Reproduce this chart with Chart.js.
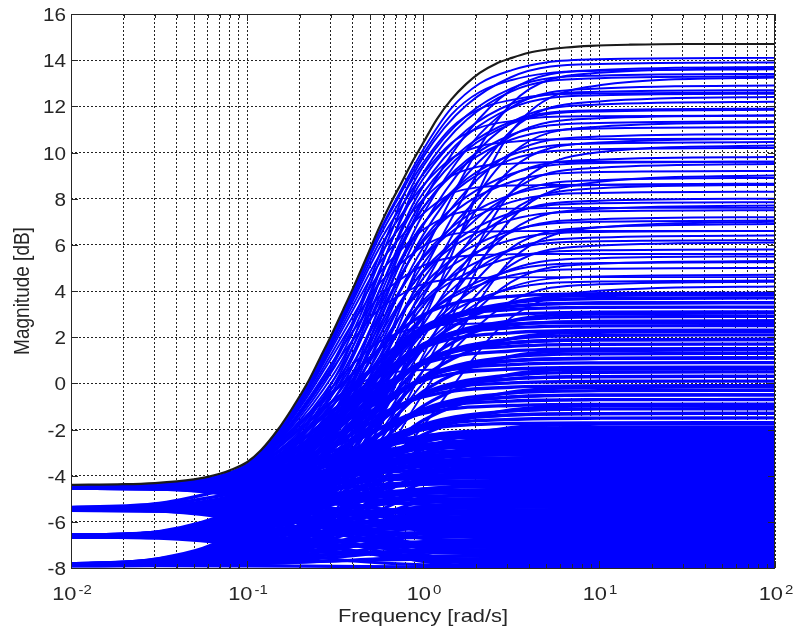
<!DOCTYPE html>
<html>
<head>
<meta charset="utf-8">
<script src="https://cdn.jsdelivr.net/npm/chart.js@4.4.1/dist/chart.umd.min.js"></script>
<style>
  body { margin: 0; background: #fff; }
  canvas { display: block; }
</style>
</head>
<body>
<canvas id="bode" width="793" height="635"></canvas>
<script>
// frequencies (rad/s) at which the blue responses are sampled
var freqs = [0.01, 0.0316, 0.1, 0.316, 1, 3.16, 10, 100];
// finer sampling for the responses that run along the envelope
var fineFreqs = [0.01, 0.03, 0.06, 0.1, 0.15, 0.22, 0.3, 0.41, 0.56, 0.75, 1, 1.45, 2.1, 3.2, 5, 10, 100];

// outer (worst case) response, drawn in black
var envFreqs = [0.01, 0.02, 0.03, 0.04, 0.05, 0.06, 0.07, 0.08, 0.1, 0.12, 0.15, 0.18, 0.22, 0.26, 0.3, 0.35, 0.41, 0.48,
  0.56, 0.65, 0.75, 0.87, 1, 1.2, 1.45, 1.75, 2.1, 2.6, 3.2, 4, 5, 6.5, 9, 15, 30, 100];
var envDb = [-4.4, -4.37, -4.32, -4.25, -4.16, -4.05, -3.92, -3.77, -3.42, -2.9, -2.0, -1.1, 0.0, 1.1, 2.05, 3.15, 4.3, 5.5,
  6.7, 7.75, 8.65, 9.6, 10.4, 11.45, 12.3, 12.95, 13.45, 13.85, 14.1, 14.32, 14.45, 14.55, 14.62, 14.67, 14.7, 14.7];

// responses that follow the envelope and level off one after another
var peelDb = [
  [-4.5, -4.42, -4.15, -3.52, -2.11, -0.11, 1.92, 4.15, 6.52, 8.37, 10.11, 11.92, 12.99, 13.57, 13.9, 14.04, 14.1],
  [-4.5, -4.42, -4.15, -3.53, -2.11, -0.13, 1.9, 4.11, 6.44, 8.24, 9.92, 11.64, 12.62, 13.14, 13.43, 13.54, 13.6],
  [-4.5, -4.42, -4.15, -3.53, -2.13, -0.16, 1.84, 4.02, 6.28, 7.99, 9.54, 11.08, 11.89, 12.28, 12.5, 12.56, 12.6],
  [-4.5, -4.42, -4.16, -3.54, -2.15, -0.2, 1.76, 3.88, 6.05, 7.64, 9.05, 10.41, 11.08, 11.37, 11.54, 11.57, 11.6],
  [-4.5, -4.42, -4.16, -3.55, -2.17, -0.25, 1.68, 3.74, 5.81, 7.28, 8.56, 9.74, 10.27, 10.46, 10.56, 10.58, 10.6],
  [-4.5, -4.42, -4.16, -3.56, -2.2, -0.31, 1.56, 3.54, 5.48, 6.82, 7.96, 8.98, 9.4, 9.52, 9.58, 9.6, 9.6],
  [-4.5, -4.43, -4.17, -3.58, -2.24, -0.38, 1.44, 3.33, 5.15, 6.36, 7.35, 8.22, 8.5, 8.57, 8.59, 8.6, 8.6],
  [-4.5, -4.43, -4.18, -3.6, -2.3, -0.48, 1.25, 3.05, 4.72, 5.78, 6.65, 7.3, 7.52, 7.57, 7.59, 7.6, 7.6],
  [-4.5, -4.43, -4.19, -3.63, -2.35, -0.59, 1.07, 2.76, 4.29, 5.2, 5.94, 6.45, 6.57, 6.59, 6.6, 6.6, 6.6],
  [-4.5, -4.43, -4.2, -3.66, -2.43, -0.74, 0.81, 2.37, 3.74, 4.52, 5.1, 5.45, 5.56, 5.59, 5.6, 5.6, 5.6],
  [-4.5, -4.44, -4.22, -3.7, -2.51, -0.9, 0.55, 1.98, 3.19, 3.84, 4.3, 4.5, 4.57, 4.59, 4.6, 4.6, 4.6],
  [-4.5, -4.45, -4.27, -3.85, -2.81, -1.44, -0.22, 0.91, 1.78, 2.22, 2.45, 2.55, 2.59, 2.6, 2.6, 2.6, 2.6],
  [-4.5, -4.47, -4.33, -4.0, -3.12, -1.99, -1.0, -0.16, 0.37, 0.52, 0.58, 0.6, 0.6, 0.6, 0.6, 0.6, 0.6]
];

// responses that settle above ~4 dB
var upperDb = [
  [-4.48, -4.37, -3.54, 1.09, 9.78, 13.26, 13.83, 13.9],
  [-4.48, -4.37, -3.57, 0.94, 9.39, 12.77, 13.33, 13.4],
  [-4.48, -4.38, -3.61, 0.73, 8.85, 12.1, 12.63, 12.7],
  [-4.48, -4.39, -3.65, 0.49, 8.23, 11.33, 11.83, 11.9],
  [-4.48, -4.39, -3.69, 0.24, 7.61, 10.55, 11.04, 11.1],
  [-4.49, -4.4, -3.74, -0.03, 6.91, 9.69, 10.14, 10.2],
  [-4.49, -4.4, -3.79, -0.34, 6.13, 8.72, 9.15, 9.2],
  [-4.49, -4.41, -3.83, -0.61, 5.43, 7.85, 8.25, 8.3],
  [-4.49, -4.42, -3.88, -0.85, 4.81, 7.08, 7.45, 7.5],
  [-4.49, -4.42, -3.92, -1.13, 4.11, 6.21, 6.56, 6.6],
  [-4.49, -4.43, -3.96, -1.37, 3.49, 5.44, 5.76, 5.8],
  [-4.49, -4.43, -4.01, -1.61, 2.87, 4.67, 4.96, 5.0],
  [-5.45, -5.36, -4.78, -1.16, 7.88, 12.7, 13.57, 13.7],
  [-5.45, -5.37, -4.81, -1.34, 7.32, 11.95, 12.77, 12.9],
  [-5.45, -5.37, -4.83, -1.5, 6.83, 11.28, 12.08, 12.2],
  [-5.45, -5.37, -4.85, -1.63, 6.42, 10.71, 11.48, 11.6],
  [-5.45, -5.38, -4.88, -1.81, 5.86, 9.96, 10.69, 10.8],
  [-5.45, -5.38, -4.92, -2.03, 5.16, 9.01, 9.69, 9.8],
  [-5.45, -5.39, -4.95, -2.24, 4.54, 8.15, 8.8, 8.9],
  [-5.45, -5.39, -4.98, -2.44, 3.91, 7.3, 7.91, 8.0],
  [-5.45, -5.39, -5.01, -2.62, 3.35, 6.54, 7.11, 7.2],
  [-5.45, -5.4, -5.04, -2.8, 2.8, 5.78, 6.32, 6.4],
  [-5.45, -5.4, -5.07, -3.0, 2.17, 4.93, 5.42, 5.5],
  [-5.45, -5.4, -5.09, -3.18, 1.61, 4.17, 4.63, 4.7],
  [-5.43, -5.32, -4.47, 0.25, 9.1, 12.64, 13.22, 13.3],
  [-5.43, -5.32, -4.51, 0.02, 8.52, 11.92, 12.48, 12.55],
  [-5.43, -5.33, -4.55, -0.19, 7.97, 11.24, 11.78, 11.85],
  [-5.43, -5.33, -4.58, -0.34, 7.59, 10.76, 11.28, 11.35],
  [-5.43, -5.34, -4.62, -0.62, 6.89, 9.89, 10.39, 10.45],
  [-5.43, -5.34, -4.67, -0.87, 6.23, 9.07, 9.54, 9.6],
  [-5.44, -5.35, -4.72, -1.16, 5.49, 8.16, 8.59, 8.65],
  [-5.44, -5.36, -4.76, -1.41, 4.87, 7.38, 7.8, 7.85],
  [-5.44, -5.36, -4.8, -1.65, 4.25, 6.61, 7.0, 7.05],
  [-5.44, -5.37, -4.84, -1.91, 3.59, 5.79, 6.15, 6.2],
  [-5.44, -5.38, -4.89, -2.2, 2.85, 4.88, 5.21, 5.25],
  [-5.44, -5.38, -4.94, -2.44, 2.23, 4.1, 4.41, 4.45],
  [-6.65, -6.59, -6.18, -3.4, 5.57, 12.09, 13.45, 13.65],
  [-6.65, -6.59, -6.21, -3.6, 4.82, 10.93, 12.21, 12.4],
  [-6.65, -6.6, -6.24, -3.78, 4.16, 9.92, 11.12, 11.3],
  [-6.65, -6.6, -6.25, -3.89, 3.73, 9.27, 10.43, 10.6],
  [-6.65, -6.6, -6.28, -4.07, 3.07, 8.26, 9.34, 9.5],
  [-6.65, -6.6, -6.3, -4.21, 2.53, 7.43, 8.45, 8.6],
  [-6.65, -6.61, -6.32, -4.35, 1.99, 6.6, 7.56, 7.7],
  [-6.65, -6.61, -6.34, -4.48, 1.51, 5.86, 6.76, 6.9],
  [-6.65, -6.61, -6.36, -4.61, 1.03, 5.12, 5.97, 6.1],
  [-6.65, -6.61, -6.38, -4.74, 0.54, 4.38, 5.18, 5.3],
  [-6.65, -6.62, -6.4, -4.88, 0.0, 3.55, 4.29, 4.4],
  [-7.9, -7.86, -7.56, -5.53, 2.68, 10.88, 12.91, 13.25],
  [-7.9, -7.86, -7.61, -5.86, 1.2, 8.26, 10.01, 10.3],
  [-7.9, -7.87, -7.63, -6.01, 0.55, 7.11, 8.73, 9.0],
  [-7.9, -7.87, -7.66, -6.23, -0.45, 5.33, 6.76, 7.0],
  [-7.9, -7.88, -7.71, -6.54, -1.85, 2.84, 4.01, 4.2]
];

// responses that settle between -2 and 4 dB
var middleDb = [
  [-4.48, -4.37, -3.56, -0.3, 2.96, 3.77, 3.88, 3.9],
  [-4.48, -4.38, -3.65, -0.7, 2.25, 2.98, 3.08, 3.1],
  [-4.49, -4.39, -3.74, -1.1, 1.54, 2.19, 2.29, 2.3],
  [-4.49, -4.4, -3.83, -1.5, 0.83, 1.4, 1.49, 1.5],
  [-4.49, -4.42, -3.92, -1.9, 0.12, 0.62, 0.69, 0.7],
  [-4.49, -4.43, -4.01, -2.3, -0.59, -0.17, -0.11, -0.1],
  [-4.49, -4.44, -4.1, -2.7, -1.3, -0.96, -0.91, -0.9],
  [-4.49, -4.46, -4.19, -3.1, -2.01, -1.74, -1.71, -1.7],
  [-4.49, -4.42, -3.88, -1.32, 2.22, 3.32, 3.48, 3.5],
  [-4.49, -4.43, -3.95, -1.63, 1.55, 2.53, 2.68, 2.7],
  [-4.49, -4.44, -4.01, -1.95, 0.88, 1.75, 1.88, 1.9],
  [-4.49, -4.44, -4.07, -2.27, 0.2, 0.97, 1.08, 1.1],
  [-4.5, -4.45, -4.13, -2.59, -0.47, 0.19, 0.29, 0.3],
  [-4.5, -4.46, -4.19, -2.91, -1.14, -0.59, -0.51, -0.5],
  [-4.5, -4.47, -4.25, -3.23, -1.81, -1.37, -1.31, -1.3],
  [-5.39, -5.31, -4.7, -1.78, 2.24, 3.49, 3.67, 3.7],
  [-5.39, -5.32, -4.76, -2.1, 1.57, 2.71, 2.88, 2.9],
  [-5.39, -5.33, -4.82, -2.41, 0.9, 1.93, 2.08, 2.1],
  [-5.39, -5.33, -4.88, -2.73, 0.23, 1.15, 1.28, 1.3],
  [-5.39, -5.34, -4.95, -3.05, -0.44, 0.36, 0.48, 0.5],
  [-5.39, -5.35, -5.01, -3.37, -1.12, -0.42, -0.32, -0.3],
  [-5.4, -5.36, -5.07, -3.69, -1.79, -1.2, -1.11, -1.1],
  [-5.4, -5.37, -5.13, -4.01, -2.46, -1.98, -1.91, -1.9],
  [-6.58, -6.44, -5.47, -1.55, 2.37, 3.34, 3.48, 3.5],
  [-6.58, -6.45, -5.56, -1.95, 1.66, 2.55, 2.68, 2.7],
  [-6.58, -6.46, -5.65, -2.35, 0.95, 1.76, 1.88, 1.9],
  [-6.58, -6.48, -5.74, -2.75, 0.24, 0.98, 1.08, 1.1],
  [-6.59, -6.49, -5.83, -3.15, -0.47, 0.19, 0.29, 0.3],
  [-6.59, -6.5, -5.92, -3.55, -1.18, -0.6, -0.51, -0.5],
  [-6.59, -6.52, -6.01, -3.95, -1.89, -1.38, -1.31, -1.3],
  [-6.64, -6.58, -6.1, -3.46, 1.5, 3.48, 3.81, 3.85],
  [-6.64, -6.58, -6.15, -3.7, 0.88, 2.71, 3.01, 3.05],
  [-6.64, -6.59, -6.19, -3.94, 0.26, 1.94, 2.21, 2.25],
  [-6.64, -6.59, -6.23, -4.19, -0.36, 1.17, 1.42, 1.45],
  [-6.64, -6.6, -6.27, -4.43, -0.99, 0.39, 0.62, 0.65],
  [-6.64, -6.6, -6.31, -4.67, -1.61, -0.38, -0.18, -0.15],
  [-6.64, -6.61, -6.35, -4.92, -2.23, -1.15, -0.97, -0.95],
  [-6.65, -6.62, -6.4, -5.16, -2.85, -1.92, -1.77, -1.75],
  [-7.82, -7.59, -6.07, -1.14, 2.44, 3.19, 3.29, 3.3],
  [-7.82, -7.61, -6.19, -1.62, 1.7, 2.4, 2.49, 2.5],
  [-7.82, -7.63, -6.32, -2.1, 0.96, 1.6, 1.69, 1.7],
  [-7.82, -7.65, -6.45, -2.58, 0.23, 0.81, 0.89, 0.9],
  [-7.83, -7.67, -6.58, -3.06, -0.51, 0.02, 0.09, 0.1],
  [-7.83, -7.69, -6.71, -3.55, -1.25, -0.77, -0.71, -0.7],
  [-7.83, -7.7, -6.83, -4.03, -1.99, -1.56, -1.51, -1.5]
];

// responses that settle between -8 and -2 dB
var lowerDb = [
  [-4.49, -4.44, -4.12, -3.06, -2.28, -2.12, -2.1, -2.1],
  [-4.49, -4.45, -4.18, -3.3, -2.65, -2.52, -2.5, -2.5],
  [-4.5, -4.46, -4.24, -3.54, -3.02, -2.92, -2.9, -2.9],
  [-4.5, -4.47, -4.31, -3.78, -3.39, -3.31, -3.3, -3.3],
  [-4.5, -4.48, -4.37, -4.02, -3.76, -3.71, -3.7, -3.7],
  [-4.5, -4.49, -4.44, -4.26, -4.13, -4.1, -4.1, -4.1],
  [-4.5, -4.51, -4.56, -4.74, -4.87, -4.9, -4.9, -4.9],
  [-4.5, -4.52, -4.63, -4.98, -5.24, -5.29, -5.3, -5.3],
  [-4.5, -4.53, -4.69, -5.22, -5.61, -5.69, -5.7, -5.7],
  [-4.5, -4.54, -4.76, -5.46, -5.98, -6.08, -6.1, -6.1],
  [-4.51, -4.55, -4.82, -5.7, -6.35, -6.48, -6.5, -6.5],
  [-4.51, -4.56, -4.88, -5.94, -6.72, -6.88, -6.9, -6.9],
  [-4.51, -4.56, -4.95, -6.19, -7.08, -7.27, -7.3, -7.3],
  [-4.51, -4.57, -5.01, -6.43, -7.45, -7.67, -7.7, -7.7],
  [-5.44, -5.34, -4.72, -3.19, -2.37, -2.22, -2.2, -2.2],
  [-5.44, -5.35, -4.81, -3.47, -2.75, -2.62, -2.6, -2.6],
  [-5.44, -5.36, -4.9, -3.74, -3.13, -3.02, -3.0, -3.0],
  [-5.44, -5.38, -4.99, -4.02, -3.51, -3.41, -3.4, -3.4],
  [-5.44, -5.39, -5.08, -4.3, -3.89, -3.81, -3.8, -3.8],
  [-5.44, -5.41, -5.17, -4.58, -4.27, -4.21, -4.2, -4.2],
  [-5.45, -5.42, -5.26, -4.86, -4.64, -4.61, -4.6, -4.6],
  [-5.45, -5.43, -5.35, -5.14, -5.02, -5.0, -5.0, -5.0],
  [-5.45, -5.46, -5.53, -5.69, -5.78, -5.8, -5.8, -5.8],
  [-5.45, -5.48, -5.62, -5.97, -6.16, -6.2, -6.2, -6.2],
  [-5.46, -5.49, -5.71, -6.25, -6.54, -6.59, -6.6, -6.6],
  [-5.46, -5.5, -5.8, -6.53, -6.92, -6.99, -7.0, -7.0],
  [-5.46, -5.52, -5.89, -6.81, -7.3, -7.39, -7.4, -7.4],
  [-5.46, -5.53, -5.98, -7.09, -7.68, -7.78, -7.8, -7.8],
  [-6.62, -6.42, -5.33, -3.27, -2.45, -2.32, -2.3, -2.3],
  [-6.62, -6.44, -5.45, -3.6, -2.84, -2.72, -2.7, -2.7],
  [-6.63, -6.47, -5.57, -3.9, -3.22, -3.11, -3.1, -3.1],
  [-6.63, -6.49, -5.69, -4.21, -3.61, -3.51, -3.5, -3.5],
  [-6.63, -6.51, -5.81, -4.52, -4.0, -3.91, -3.9, -3.9],
  [-6.63, -6.53, -5.94, -4.83, -4.38, -4.31, -4.3, -4.3],
  [-6.64, -6.55, -6.06, -5.14, -4.77, -4.71, -4.7, -4.7],
  [-6.64, -6.57, -6.18, -5.45, -5.15, -5.11, -5.1, -5.1],
  [-6.64, -6.59, -6.3, -5.76, -5.54, -5.5, -5.5, -5.5],
  [-6.64, -6.61, -6.42, -6.07, -5.93, -5.9, -5.9, -5.9],
  [-6.65, -6.63, -6.54, -6.38, -6.31, -6.3, -6.3, -6.3],
  [-6.65, -6.67, -6.79, -7.0, -7.08, -7.1, -7.1, -7.1],
  [-6.66, -6.69, -6.91, -7.31, -7.47, -7.5, -7.5, -7.5],
  [-6.66, -6.71, -7.03, -7.62, -7.86, -7.9, -7.9, -7.9],
  [-7.87, -7.69, -6.58, -3.79, -2.31, -2.04, -2.01, -2.0],
  [-7.88, -7.71, -6.67, -4.07, -2.69, -2.44, -2.41, -2.4],
  [-7.88, -7.72, -6.76, -4.35, -3.07, -2.84, -2.81, -2.8],
  [-7.88, -7.74, -6.85, -4.63, -3.44, -3.23, -3.2, -3.2],
  [-7.88, -7.75, -6.94, -4.91, -3.82, -3.63, -3.6, -3.6],
  [-7.88, -7.76, -7.03, -5.19, -4.2, -4.03, -4.0, -4.0],
  [-7.88, -7.78, -7.12, -5.46, -4.58, -4.42, -4.4, -4.4],
  [-7.89, -7.79, -7.21, -5.74, -4.96, -4.82, -4.8, -4.8],
  [-7.89, -7.81, -7.3, -6.02, -5.34, -5.22, -5.2, -5.2],
  [-7.89, -7.82, -7.38, -6.3, -5.72, -5.62, -5.6, -5.6],
  [-7.89, -7.83, -7.47, -6.58, -6.1, -6.01, -6.0, -6.0],
  [-7.89, -7.85, -7.56, -6.86, -6.48, -6.41, -6.4, -6.4],
  [-7.9, -7.86, -7.65, -7.13, -6.86, -6.81, -6.8, -6.8],
  [-7.9, -7.88, -7.74, -7.41, -7.24, -7.2, -7.2, -7.2],
  [-7.9, -7.89, -7.83, -7.69, -7.62, -7.6, -7.6, -7.6],
  [-7.9, -7.9, -7.91, -7.93, -7.95, -7.95, -7.95, -7.95],
  [-4.55, -4.53, -4.38, -3.67, -2.7, -2.4, -2.36, -2.35],
  [-4.55, -4.54, -4.43, -3.95, -3.29, -3.08, -3.05, -3.05],
  [-4.55, -4.54, -4.5, -4.31, -4.05, -3.96, -3.95, -3.95],
  [-4.55, -4.56, -4.6, -4.79, -5.05, -5.14, -5.15, -5.15],
  [-4.55, -4.56, -4.66, -5.11, -5.73, -5.92, -5.95, -5.95],
  [-4.55, -4.57, -4.72, -5.43, -6.4, -6.7, -6.74, -6.75],
  [-4.55, -4.58, -4.78, -5.74, -7.07, -7.48, -7.54, -7.55],
  [-4.55, -4.58, -4.81, -5.9, -7.41, -7.87, -7.94, -7.95],
  [-5.49, -5.45, -5.16, -3.98, -2.79, -2.5, -2.46, -2.45],
  [-5.5, -5.46, -5.25, -4.38, -3.5, -3.29, -3.25, -3.25],
  [-5.5, -5.48, -5.38, -4.98, -4.57, -4.47, -4.45, -4.45],
  [-5.5, -5.51, -5.6, -5.93, -6.25, -6.34, -6.35, -6.35],
  [-5.5, -5.53, -5.68, -6.33, -6.97, -7.12, -7.15, -7.15],
  [-5.51, -5.54, -5.78, -6.75, -7.72, -7.96, -8.0, -8.0],
  [-7.84, -7.79, -7.41, -5.58, -3.06, -2.28, -2.17, -2.15],
  [-7.84, -7.8, -7.45, -5.78, -3.48, -2.77, -2.67, -2.65],
  [-7.85, -7.8, -7.49, -5.98, -3.9, -3.26, -3.16, -3.15],
  [-7.85, -7.81, -7.53, -6.18, -4.32, -3.75, -3.66, -3.65],
  [-7.85, -7.81, -7.57, -6.38, -4.74, -4.24, -4.16, -4.15],
  [-7.85, -7.82, -7.6, -6.54, -5.08, -4.63, -4.56, -4.55],
  [-7.85, -7.82, -7.63, -6.7, -5.41, -5.02, -4.96, -4.95],
  [-7.85, -7.83, -7.67, -6.89, -5.83, -5.5, -5.46, -5.45],
  [-7.85, -7.83, -7.7, -7.05, -6.17, -5.9, -5.86, -5.85],
  [-7.85, -7.83, -7.73, -7.21, -6.51, -6.29, -6.25, -6.25],
  [-7.85, -7.84, -7.76, -7.39, -6.88, -6.73, -6.7, -6.7],
  [-7.85, -7.84, -7.79, -7.53, -7.18, -7.07, -7.05, -7.05],
  [-7.85, -7.85, -7.82, -7.69, -7.51, -7.46, -7.45, -7.45],
  [-6.59, -6.53, -6.09, -4.33, -2.56, -2.12, -2.06, -2.05],
  [-6.59, -6.54, -6.15, -4.58, -3.0, -2.61, -2.56, -2.55],
  [-6.59, -6.55, -6.24, -4.98, -3.71, -3.4, -3.36, -3.35],
  [-6.59, -6.56, -6.29, -5.23, -4.16, -3.89, -3.85, -3.85],
  [-6.6, -6.57, -6.37, -5.58, -4.78, -4.58, -4.55, -4.55],
  [-6.6, -6.58, -6.46, -5.98, -5.49, -5.37, -5.35, -5.35],
  [-6.6, -6.59, -6.5, -6.18, -5.85, -5.76, -5.75, -5.75],
  [-6.6, -6.6, -6.58, -6.53, -6.47, -6.45, -6.45, -6.45],
  [-6.6, -6.61, -6.64, -6.78, -6.91, -6.94, -6.95, -6.95],
  [-6.6, -6.61, -6.68, -6.98, -7.27, -7.34, -7.35, -7.35],
  [-6.6, -6.62, -6.72, -7.15, -7.58, -7.68, -7.7, -7.7],
  [-5.37, -5.2, -4.35, -3.17, -2.81, -2.76, -2.75, -2.75],
  [-5.38, -5.26, -4.66, -3.85, -3.59, -3.56, -3.55, -3.55],
  [-5.39, -5.32, -4.98, -4.52, -4.37, -4.35, -4.35, -4.35],
  [-5.39, -5.35, -5.14, -4.85, -4.76, -4.75, -4.75, -4.75],
  [-5.4, -5.41, -5.46, -5.53, -5.55, -5.55, -5.55, -5.55],
  [-5.41, -5.45, -5.68, -5.99, -6.08, -6.1, -6.1, -6.1],
  [-7.87, -7.65, -6.61, -5.17, -4.72, -4.66, -4.65, -4.65],
  [-7.87, -7.7, -6.89, -5.76, -5.41, -5.36, -5.35, -5.35],
  [-7.88, -7.76, -7.16, -6.35, -6.09, -6.06, -6.05, -6.05],
  [-7.89, -7.8, -7.4, -6.85, -6.68, -6.65, -6.65, -6.65],
  [-7.89, -7.85, -7.66, -7.4, -7.31, -7.3, -7.3, -7.3]
];

// axis ticks and labels
var yTicks = [16, 14, 12, 10, 8, 6, 4, 2, 0, -2, -4, -6, -8];
var xTicks = [0.01, 0.1, 1, 10, 100];
var xTickExp = ['-2', '-1', '0', '1', '2'];
var xTitle = 'Frequency [rad/s]';
var yTitle = 'Magnitude [dB]';

// log grid: 1..9 in every decade
var gridFreqs = [];
xTicks.slice(0, -1).forEach(function (d) {
  for (var m = 1; m < 10; m++) gridFreqs.push(+(d * m).toPrecision(3));
});
gridFreqs.push(100);

function toPoints(xs, ys) {
  return ys.map(function (v, i) { return { x: xs[i], y: v }; });
}

var BLUE = '#0000ff';
var datasets = [{
  data: toPoints(envFreqs, envDb),
  borderColor: '#1a1a1a',
  borderWidth: 2.2
}];
peelDb.forEach(function (row) {
  datasets.push({ data: toPoints(fineFreqs, row), borderColor: BLUE, borderWidth: 1.9 });
});
[[upperDb, 2.0], [middleDb, 3.3], [lowerDb, 3.2]].forEach(function (set) {
  set[0].forEach(function (row) {
    datasets.push({ data: toPoints(freqs, row), borderColor: BLUE, borderWidth: set[1] });
  });
});

var FONT = '"Liberation Sans", Arial, sans-serif';
var INK = '#262626';

// the exported figure has slightly wide lettering
function wideText(ctx, text, x, y, align, sx) {
  ctx.save();
  ctx.translate(x, y);
  ctx.scale(sx, 1);
  ctx.textAlign = align;
  ctx.fillText(text, 0, 0);
  ctx.restore();
}

var axesFrame = {
  id: 'axesFrame',
  afterDraw: function (chart) {
    var ctx = chart.ctx, a = chart.chartArea;
    var xs = chart.scales.x, ys = chart.scales.y;
    ctx.save();
    ctx.strokeStyle = INK;
    ctx.lineWidth = 1;
    ctx.strokeRect(Math.round(a.left) + 0.5, Math.round(a.top) + 0.5,
      Math.round(a.right - a.left) - 1, Math.round(a.bottom - a.top));

    // inward tick marks on all four sides
    ctx.beginPath();
    yTicks.forEach(function (v) {
      var py = Math.round(ys.getPixelForValue(v)) + 0.5;
      ctx.moveTo(a.left, py); ctx.lineTo(a.left + 7, py);
      ctx.moveTo(a.right, py); ctx.lineTo(a.right - 7, py);
    });
    gridFreqs.forEach(function (v) {
      var px = Math.round(xs.getPixelForValue(v)) + 0.5;
      var len = xTicks.indexOf(v) >= 0 ? 7 : 4;
      ctx.moveTo(px, a.bottom); ctx.lineTo(px, a.bottom - len);
      ctx.moveTo(px, a.top); ctx.lineTo(px, a.top + len);
    });
    ctx.stroke();

    ctx.fillStyle = INK;
    ctx.textBaseline = 'alphabetic';

    // y tick labels
    ctx.font = '18px ' + FONT;
    yTicks.forEach(function (v) {
      wideText(ctx, String(v), a.left - 5, ys.getPixelForValue(v) + 7, 'right', 1.15);
    });

    // x tick labels: 10 with a raised exponent
    xTicks.forEach(function (v, i) {
      var px = xs.getPixelForValue(v);
      ctx.font = '19px ' + FONT;
      var wBase = ctx.measureText('10').width * 1.15;
      ctx.font = '13px ' + FONT;
      var wExp = ctx.measureText(xTickExp[i]).width * 1.15;
      var left = px - (wBase + 2 + wExp) / 2 + 1;
      ctx.font = '19px ' + FONT;
      wideText(ctx, '10', left, 600, 'left', 1.15);
      ctx.font = '13px ' + FONT;
      wideText(ctx, xTickExp[i], left + wBase + 2, 594, 'left', 1.15);
    });

    // axis titles
    ctx.font = '19px ' + FONT;
    wideText(ctx, xTitle, (a.left + a.right) / 2, 622, 'center', 1.15);
    ctx.save();
    ctx.translate(29, (a.top + a.bottom) / 2);
    ctx.rotate(-Math.PI / 2);
    ctx.scale(1, 1.12);
    ctx.textAlign = 'center';
    ctx.fillText(yTitle, 0, 0);
    ctx.restore();
    ctx.restore();
  }
};

new Chart(document.getElementById('bode').getContext('2d'), {
  type: 'line',
  data: { datasets: datasets },
  options: {
    responsive: false,
    animation: false,
    events: [],
    layout: { padding: { left: 0, top: 14, right: 18, bottom: 0 } },
    plugins: { legend: { display: false }, tooltip: { enabled: false } },
    elements: {
      point: { radius: 0 },
      line: { cubicInterpolationMode: 'monotone', fill: false }
    },
    scales: {
      x: {
        type: 'logarithmic', min: 0.01, max: 100,
        afterBuildTicks: function (s) { s.ticks = gridFreqs.map(function (v) { return { value: v }; }); },
        afterFit: function (s) { s.height = 67; },
        ticks: { display: false },
        grid: { color: '#222', lineWidth: 1, drawTicks: false },
        border: { display: false, dash: [2, 2] }
      },
      y: {
        type: 'linear', min: -8, max: 16,
        afterBuildTicks: function (s) { s.ticks = yTicks.map(function (v) { return { value: v }; }); },
        afterFit: function (s) { s.width = 71; },
        ticks: { display: false },
        grid: { color: '#222', lineWidth: 1, drawTicks: false },
        border: { display: false, dash: [2, 2] }
      }
    }
  },
  plugins: [axesFrame]
});
</script>
</body>
</html>
